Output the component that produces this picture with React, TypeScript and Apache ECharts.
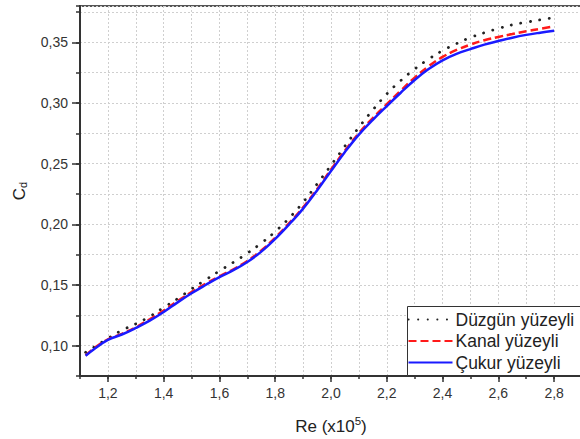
import React, { useEffect, useRef } from 'react';
import * as echarts from 'echarts';

const reValues = [1.12, 1.15, 1.2, 1.25, 1.3, 1.35, 1.4, 1.45, 1.5, 1.55, 1.6, 1.65, 1.7, 1.75, 1.8, 1.85, 1.9, 1.95, 2.0, 2.05, 2.1, 2.15, 2.2, 2.25, 2.3, 2.35, 2.4, 2.45, 2.5, 2.55, 2.6, 2.65, 2.7, 2.75, 2.8];

const duzgun = [0.0945, 0.0987, 0.1060, 0.1126, 0.1180, 0.1240, 0.1314, 0.1387, 0.1467, 0.1542, 0.1616, 0.1687, 0.1762, 0.1845, 0.1940, 0.2052, 0.2182, 0.2332, 0.2487, 0.2645, 0.2800, 0.2943, 0.3075, 0.3185, 0.3280, 0.3362, 0.3432, 0.3490, 0.3540, 0.3580, 0.3614, 0.3645, 0.3666, 0.3686, 0.3705];
const kanal = [0.0920, 0.0978, 0.1052, 0.1098, 0.1152, 0.1218, 0.1290, 0.1368, 0.1442, 0.1510, 0.1572, 0.1630, 0.1698, 0.1785, 0.1890, 0.2010, 0.2140, 0.2290, 0.2452, 0.2608, 0.2752, 0.2876, 0.2990, 0.3102, 0.3210, 0.3303, 0.3380, 0.3438, 0.3482, 0.3518, 0.3545, 0.3569, 0.3592, 0.3612, 0.3632];
const cukur = [0.0917, 0.0971, 0.1048, 0.1092, 0.1146, 0.1206, 0.1277, 0.1357, 0.1432, 0.1500, 0.1565, 0.1622, 0.1690, 0.1775, 0.1880, 0.2000, 0.2130, 0.2280, 0.2440, 0.2597, 0.2740, 0.2862, 0.2975, 0.3085, 0.3190, 0.3280, 0.3352, 0.3405, 0.3445, 0.3482, 0.3511, 0.3539, 0.3562, 0.3580, 0.3596];

const seriesNames = ['Düzgün yüzeyli', 'Kanal yüzeyli', 'Çukur yüzeyli'];
const xTickLabels = [1.2, 1.4, 1.6, 1.8, 2.0, 2.2, 2.4, 2.6, 2.8];
const yTickLabels = [0.10, 0.15, 0.20, 0.25, 0.30, 0.35];

const FONT = 'Liberation Sans, Arial, sans-serif';

export default function App() {
  const ref = useRef<HTMLDivElement>(null);
  useEffect(() => {
    if (!ref.current) return;
    const chart = echarts.init(ref.current, undefined, { renderer: 'svg' });
    const pairs = (ys: number[]) => reValues.map((x, i) => [x, ys[i]]);
    const gridLine = { show: true, lineStyle: { color: '#cfcfcf', type: [2, 2], width: 1 } };
    chart.setOption({
      animation: false,
      backgroundColor: '#ffffff',
      textStyle: { fontFamily: FONT },
      grid: { left: 80, top: 6, width: 502, bottom: 63, show: true, borderColor: '#555', borderWidth: 2, backgroundColor: 'transparent', containLabel: false, outerBoundsMode: 'none' },
      legend: {
        orient: 'vertical',
        left: 407.5,
        top: 306.5,
        padding: [4, 8, 4, 0],
        itemWidth: 44,
        itemHeight: 18,
        itemGap: 3.5,
        backgroundColor: '#ffffff',
        borderColor: '#333',
        borderWidth: 1,
        borderRadius: 0,
        itemStyle: { opacity: 0 },
        textStyle: { fontFamily: FONT, fontSize: 17.5, color: '#222', lineHeight: 18, padding: [0, 0, 0, -2] },
        data: seriesNames,
      },
      xAxis: [
        {
          type: 'value', min: 1.1, max: 2.9, interval: 0.1,
          axisLine: { show: true, onZero: false, lineStyle: { color: '#333', width: 2 } },
          axisTick: { show: true, customValues: xTickLabels, length: 6, lineStyle: { color: '#333', width: 1.5 } },
          axisLabel: { show: true, customValues: xTickLabels, margin: 10, fontSize: 14, color: '#333', fontFamily: FONT, formatter: (v: number) => v.toFixed(1).replace('.', ',') },
          splitLine: { show: false },
          name: '{a|Re (x10}{s|5}{a|)}',
          nameLocation: 'middle',
          nameGap: 38,
          nameTextStyle: {
            rich: {
              a: { fontSize: 17, fontFamily: FONT, color: '#222', lineHeight: 24 },
              s: { fontSize: 11.5, fontFamily: FONT, color: '#222', lineHeight: 24, padding: [0, 0, 10, 0] },
            },
          },
        },
        {
          type: 'value', min: 1.1, max: 2.9, interval: 0.1, position: 'bottom',
          axisLine: { show: false, onZero: false },
          axisTick: { show: true, length: 3, lineStyle: { color: '#333', width: 1.5 } },
          axisLabel: { show: false },
          splitLine: gridLine,
        },
      ],
      yAxis: [
        {
          type: 'value', min: 0.075, max: 0.38, interval: 0.025,
          axisLine: { show: true, onZero: false, lineStyle: { color: '#333', width: 2 } },
          axisTick: { show: true, customValues: yTickLabels, length: 8, lineStyle: { color: '#333', width: 1.5 } },
          axisLabel: { show: true, customValues: yTickLabels, margin: 12, fontSize: 14, color: '#333', fontFamily: FONT, formatter: (v: number) => v.toFixed(2).replace('.', ',') },
          splitLine: { show: false },
          name: '{a|C}{s|d}',
          nameLocation: 'middle',
          nameRotate: 90,
          nameGap: 50,
          nameTextStyle: {
            rich: {
              a: { fontSize: 17, fontFamily: FONT, color: '#222', lineHeight: 22 },
              s: { fontSize: 11, fontFamily: FONT, color: '#222', lineHeight: 22, padding: [8, 0, 0, 0] },
            },
          },
        },
        {
          type: 'value', min: 0.075, max: 0.38, interval: 0.025, position: 'left',
          axisLine: { show: false, onZero: false },
          axisTick: { show: true, length: 4, lineStyle: { color: '#333', width: 1.5 } },
          axisLabel: { show: false },
          splitLine: gridLine,
        },
      ],
      series: [
        {
          name: seriesNames[0], type: 'line', xAxisIndex: 0, yAxisIndex: 0, data: pairs(duzgun),
          symbol: 'none', smooth: 0.4, color: '#222',
          lineStyle: { color: '#222', width: 2.8, type: [0.1, 9.5], cap: 'round' },
        },
        {
          name: seriesNames[1], type: 'line', xAxisIndex: 0, yAxisIndex: 0, data: pairs(kanal),
          symbol: 'none', smooth: 0.4, color: '#ff1a1a',
          lineStyle: { color: '#ff1a1a', width: 2.5, type: [8, 4] },
        },
        {
          name: seriesNames[2], type: 'line', xAxisIndex: 0, yAxisIndex: 0, data: pairs(cukur),
          symbol: 'none', smooth: 0.4, color: '#1a1aff',
          lineStyle: { color: '#1a1aff', width: 2.5 },
        },
      ],
    });
    return () => chart.dispose();
  }, []);
  return <div ref={ref} style={{ position: 'fixed', left: 0, top: 0, width: 580, height: 439 }} />;
}
